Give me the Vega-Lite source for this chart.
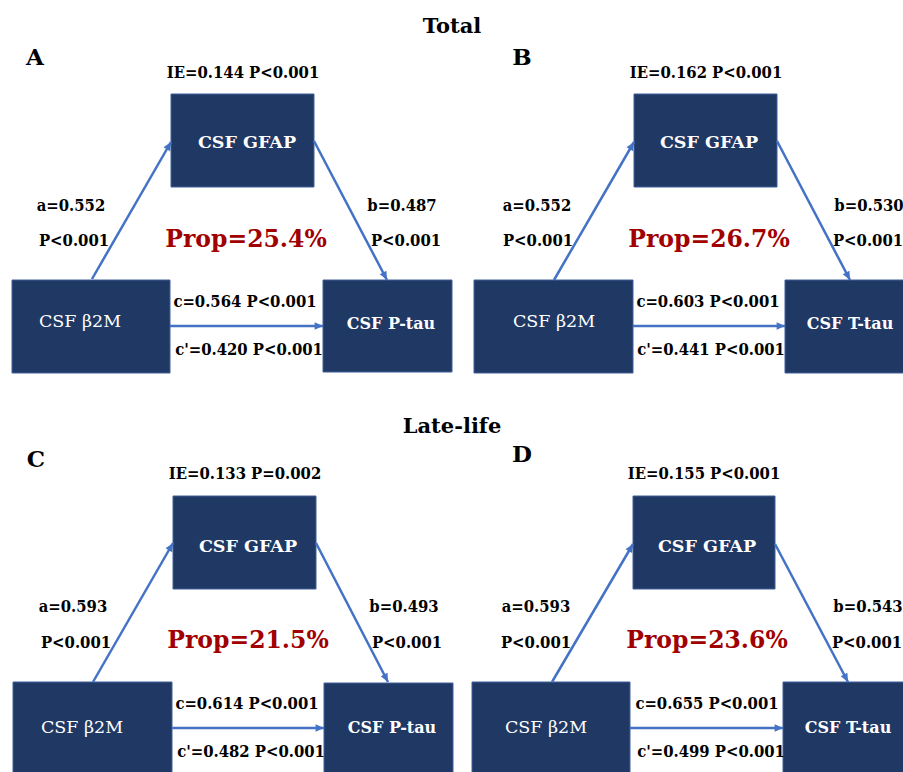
{
  "$schema": "https://vega.github.io/schema/vega-lite/v6.json",
  "width": 903,
  "height": 772,
  "padding": 0,
  "autosize": {"type": "none"},
  "background": "white",
  "config": {"view": {"stroke": null}},
  "datasets": {
    "boxes": [
      {"panel": "A", "node": "mediator", "label": "CSF GFAP", "x1": 171, "x2": 314, "y1": 94, "y2": 187, "lx": 247, "ly": 148},
      {"panel": "A", "node": "exposure", "label": "CSF β2M", "x1": 12, "x2": 170, "y1": 280, "y2": 373, "lx": 80, "ly": 327},
      {"panel": "A", "node": "outcome", "label": "CSF P-tau", "x1": 323, "x2": 452, "y1": 280, "y2": 372, "lx": 391, "ly": 329},
      {"panel": "B", "node": "mediator", "label": "CSF GFAP", "x1": 634, "x2": 777, "y1": 94, "y2": 187, "lx": 709, "ly": 148},
      {"panel": "B", "node": "exposure", "label": "CSF β2M", "x1": 474, "x2": 633, "y1": 280, "y2": 373, "lx": 554, "ly": 327},
      {"panel": "B", "node": "outcome", "label": "CSF T-tau", "x1": 785, "x2": 910, "y1": 280, "y2": 373, "lx": 850, "ly": 329},
      {"panel": "C", "node": "mediator", "label": "CSF GFAP", "x1": 173, "x2": 316, "y1": 496, "y2": 589, "lx": 248, "ly": 552},
      {"panel": "C", "node": "exposure", "label": "CSF β2M", "x1": 13, "x2": 172, "y1": 682, "y2": 780, "lx": 82, "ly": 733},
      {"panel": "C", "node": "outcome", "label": "CSF P-tau", "x1": 324, "x2": 453, "y1": 683, "y2": 780, "lx": 392, "ly": 733},
      {"panel": "D", "node": "mediator", "label": "CSF GFAP", "x1": 633, "x2": 775, "y1": 496, "y2": 589, "lx": 707, "ly": 552},
      {"panel": "D", "node": "exposure", "label": "CSF β2M", "x1": 472, "x2": 630, "y1": 682, "y2": 780, "lx": 546, "ly": 733},
      {"panel": "D", "node": "outcome", "label": "CSF T-tau", "x1": 783, "x2": 910, "y1": 682, "y2": 780, "lx": 848, "ly": 733}
    ],
    "edges": [
      {"panel": "A", "path": "a", "x1": 92, "y1": 279, "x2": 171, "y2": 142},
      {"panel": "A", "path": "b", "x1": 314, "y1": 141, "x2": 387, "y2": 280},
      {"panel": "A", "path": "c", "x1": 170, "y1": 326, "x2": 323, "y2": 326},
      {"panel": "B", "path": "a", "x1": 554, "y1": 280, "x2": 634, "y2": 142},
      {"panel": "B", "path": "b", "x1": 777, "y1": 141, "x2": 850, "y2": 280},
      {"panel": "B", "path": "c", "x1": 633, "y1": 326, "x2": 785, "y2": 326},
      {"panel": "C", "path": "a", "x1": 93, "y1": 682, "x2": 173, "y2": 543},
      {"panel": "C", "path": "b", "x1": 316, "y1": 543, "x2": 388, "y2": 682},
      {"panel": "C", "path": "c", "x1": 172, "y1": 728, "x2": 324, "y2": 728},
      {"panel": "D", "path": "a", "x1": 552, "y1": 682, "x2": 633, "y2": 544},
      {"panel": "D", "path": "b", "x1": 775, "y1": 544, "x2": 848, "y2": 682},
      {"panel": "D", "path": "c", "x1": 630, "y1": 728, "x2": 783, "y2": 728}
    ],
    "labels": [
      {"kind": "heading", "text": "Total", "x": 452, "y": 33},
      {"kind": "heading", "text": "Late-life", "x": 452, "y": 433},
      {"kind": "panel", "text": "A", "x": 35, "y": 65},
      {"kind": "panel", "text": "B", "x": 522, "y": 65},
      {"kind": "panel", "text": "C", "x": 36, "y": 467},
      {"kind": "panel", "text": "D", "x": 522, "y": 462},
      {"kind": "stat", "text": "IE=0.144 P<0.001", "x": 243, "y": 78},
      {"kind": "stat", "text": "IE=0.162 P<0.001", "x": 706, "y": 78},
      {"kind": "stat", "text": "IE=0.133 P=0.002", "x": 245, "y": 479},
      {"kind": "stat", "text": "IE=0.155 P<0.001", "x": 704, "y": 479},
      {"kind": "stat", "text": "a=0.552", "x": 71, "y": 211},
      {"kind": "stat", "text": "P<0.001", "x": 74, "y": 246},
      {"kind": "stat", "text": "b=0.487", "x": 402, "y": 211},
      {"kind": "stat", "text": "P<0.001", "x": 406, "y": 246},
      {"kind": "stat", "text": "c=0.564 P<0.001", "x": 245, "y": 307},
      {"kind": "stat", "text": "c'=0.420 P<0.001", "x": 249, "y": 355},
      {"kind": "stat", "text": "a=0.552", "x": 537, "y": 211},
      {"kind": "stat", "text": "P<0.001", "x": 538, "y": 246},
      {"kind": "stat", "text": "b=0.530", "x": 869, "y": 211},
      {"kind": "stat", "text": "P<0.001", "x": 868, "y": 246},
      {"kind": "stat", "text": "c=0.603 P<0.001", "x": 708, "y": 307},
      {"kind": "stat", "text": "c'=0.441 P<0.001", "x": 711, "y": 355},
      {"kind": "stat", "text": "a=0.593", "x": 73, "y": 612},
      {"kind": "stat", "text": "P<0.001", "x": 76, "y": 648},
      {"kind": "stat", "text": "b=0.493", "x": 404, "y": 612},
      {"kind": "stat", "text": "P<0.001", "x": 407, "y": 648},
      {"kind": "stat", "text": "c=0.614 P<0.001", "x": 247, "y": 709},
      {"kind": "stat", "text": "c'=0.482 P<0.001", "x": 251, "y": 757},
      {"kind": "stat", "text": "a=0.593", "x": 536, "y": 612},
      {"kind": "stat", "text": "P<0.001", "x": 536, "y": 648},
      {"kind": "stat", "text": "b=0.543", "x": 868, "y": 612},
      {"kind": "stat", "text": "P<0.001", "x": 867, "y": 648},
      {"kind": "stat", "text": "c=0.655 P<0.001", "x": 707, "y": 709},
      {"kind": "stat", "text": "c'=0.499 P<0.001", "x": 711, "y": 757},
      {"kind": "prop", "text": "Prop=25.4%", "x": 246, "y": 247},
      {"kind": "prop", "text": "Prop=26.7%", "x": 709, "y": 247},
      {"kind": "prop", "text": "Prop=21.5%", "x": 248, "y": 648},
      {"kind": "prop", "text": "Prop=23.6%", "x": 707, "y": 648}
    ]
  },
  "layer": [
    {
      "data": {"name": "boxes"},
      "mark": {"type": "rect", "fill": "#203864", "stroke": "#3f5f9c", "strokeWidth": 1, "clip": true},
      "encoding": {
        "x": {"field": "x1", "type": "quantitative", "scale": {"domain": [0, 903], "nice": false, "zero": false}, "axis": null},
        "x2": {"field": "x2"},
        "y": {"field": "y1", "type": "quantitative", "scale": {"domain": [0, 772], "nice": false, "zero": false, "reverse": true}, "axis": null},
        "y2": {"field": "y2"}
      }
    },
    {
      "data": {"name": "edges"},
      "mark": {"type": "rule", "color": "#4472c4", "strokeWidth": 2.5},
      "encoding": {
        "x": {"field": "x1", "type": "quantitative"},
        "y": {"field": "y1", "type": "quantitative"},
        "x2": {"field": "x2"},
        "y2": {"field": "y2"}
      }
    },
    {
      "data": {"name": "edges"},
      "transform": [
        {"calculate": "atan2(datum.x2 - datum.x1, datum.y1 - datum.y2) * 180 / PI", "as": "angle"}
      ],
      "mark": {"type": "point", "shape": "M0,0L-0.45,1L0.45,1Z", "filled": true, "size": 280, "color": "#4472c4", "opacity": 1, "strokeWidth": 0},
      "encoding": {
        "x": {"field": "x2", "type": "quantitative"},
        "y": {"field": "y2", "type": "quantitative"},
        "angle": {"field": "angle", "type": "quantitative", "scale": null}
      }
    },
    {
      "data": {"name": "boxes"},
      "transform": [{"filter": "datum.node === 'mediator'"}],
      "mark": {"type": "text", "font": "DejaVu Serif", "fontSize": 17.5, "fontWeight": "bold", "color": "white", "align": "center", "baseline": "alphabetic"},
      "encoding": {
        "x": {"field": "lx", "type": "quantitative"},
        "y": {"field": "ly", "type": "quantitative"},
        "text": {"field": "label"}
      }
    },
    {
      "data": {"name": "boxes"},
      "transform": [{"filter": "datum.node === 'outcome'"}],
      "mark": {"type": "text", "font": "DejaVu Serif", "fontSize": 16, "fontWeight": "bold", "color": "white", "align": "center", "baseline": "alphabetic"},
      "encoding": {
        "x": {"field": "lx", "type": "quantitative"},
        "y": {"field": "ly", "type": "quantitative"},
        "text": {"field": "label"}
      }
    },
    {
      "data": {"name": "boxes"},
      "transform": [{"filter": "datum.node === 'exposure'"}],
      "mark": {"type": "text", "font": "DejaVu Serif", "fontSize": 17.5, "fontWeight": "normal", "color": "white", "align": "center", "baseline": "alphabetic"},
      "encoding": {
        "x": {"field": "lx", "type": "quantitative"},
        "y": {"field": "ly", "type": "quantitative"},
        "text": {"field": "label"}
      }
    },
    {
      "data": {"name": "labels"},
      "transform": [{"filter": "datum.kind === 'heading'"}],
      "mark": {"type": "text", "font": "DejaVu Serif", "fontSize": 21, "fontWeight": "bold", "color": "black", "align": "center", "baseline": "alphabetic"},
      "encoding": {
        "x": {"field": "x", "type": "quantitative"},
        "y": {"field": "y", "type": "quantitative"},
        "text": {"field": "text"}
      }
    },
    {
      "data": {"name": "labels"},
      "transform": [{"filter": "datum.kind === 'panel'"}],
      "mark": {"type": "text", "font": "DejaVu Serif", "fontSize": 23, "fontWeight": "bold", "color": "black", "align": "center", "baseline": "alphabetic"},
      "encoding": {
        "x": {"field": "x", "type": "quantitative"},
        "y": {"field": "y", "type": "quantitative"},
        "text": {"field": "text"}
      }
    },
    {
      "data": {"name": "labels"},
      "transform": [{"filter": "datum.kind === 'stat'"}],
      "mark": {"type": "text", "font": "DejaVu Serif Condensed", "fontSize": 16.5, "fontWeight": "bold", "color": "black", "align": "center", "baseline": "alphabetic"},
      "encoding": {
        "x": {"field": "x", "type": "quantitative"},
        "y": {"field": "y", "type": "quantitative"},
        "text": {"field": "text"}
      }
    },
    {
      "data": {"name": "labels"},
      "transform": [{"filter": "datum.kind === 'prop'"}],
      "mark": {"type": "text", "font": "DejaVu Serif", "fontSize": 23.5, "fontWeight": "bold", "color": "#a00000", "align": "center", "baseline": "alphabetic"},
      "encoding": {
        "x": {"field": "x", "type": "quantitative"},
        "y": {"field": "y", "type": "quantitative"},
        "text": {"field": "text"}
      }
    }
  ]
}
